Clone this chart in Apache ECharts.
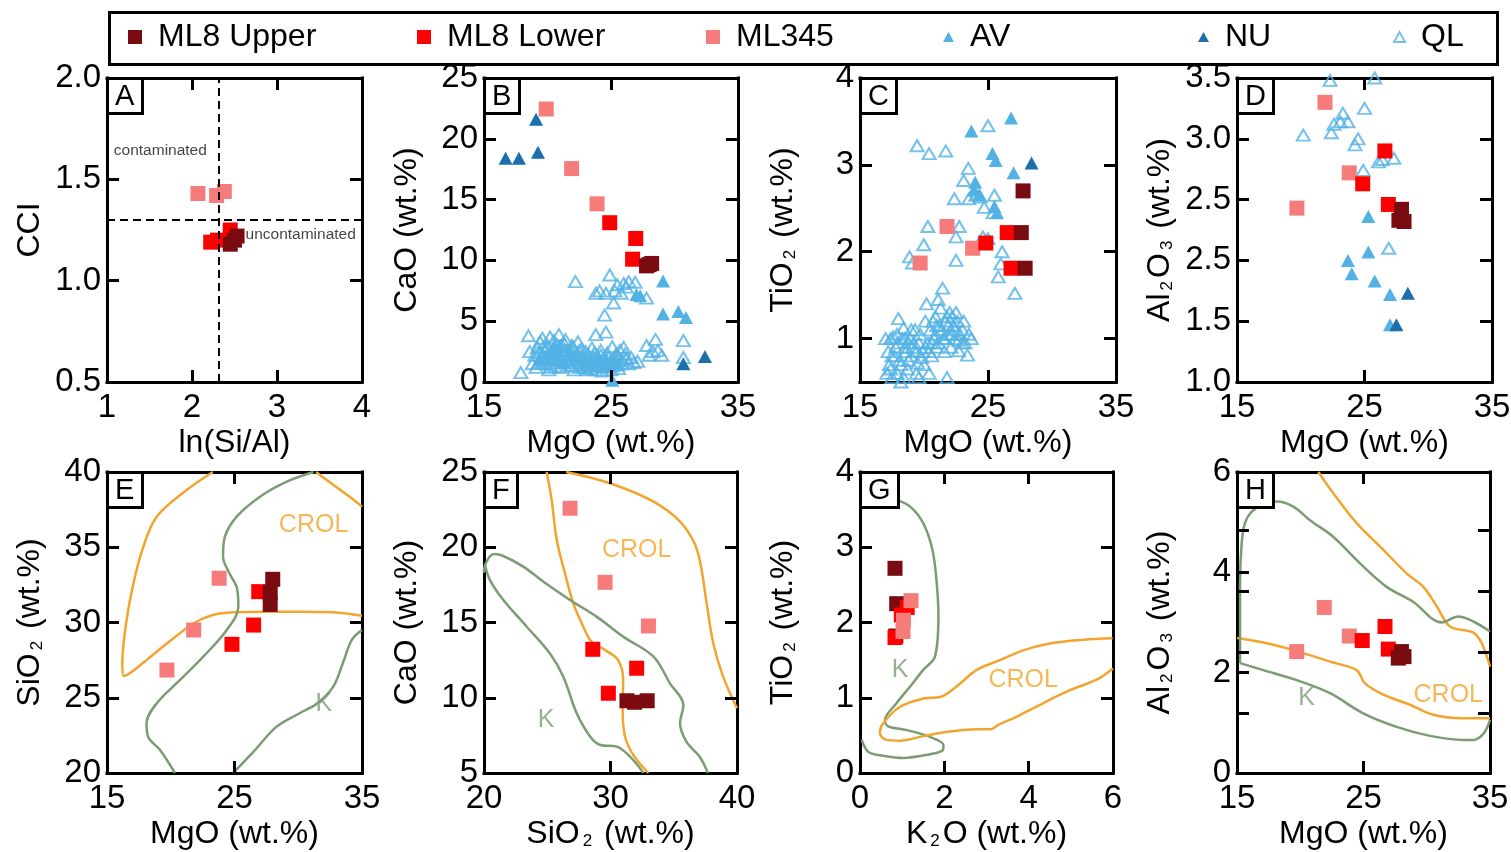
<!DOCTYPE html>
<html>
<head>
<meta charset="utf-8">
<script src="https://cdn.jsdelivr.net/npm/echarts@6/dist/echarts.min.js"></script>
<style>
  html, body { margin: 0; padding: 0; background: #fff; }
  #chart { width: 1511px; height: 852px; }
</style>
</head>
<body>
<div id="chart"></div>
<script>
// ---------- sample groups ----------
const GROUPS = ['ML8 Upper', 'ML8 Lower', 'ML345', 'AV', 'NU', 'QL'];

// ---------- tick values ----------
const TICKS_A_X = [1, 2, 3, 4];
const TICKS_A_Y = [0.5, 1.0, 1.5, 2.0];
const TICKS_MGO = [15, 25, 35];
const TICKS_CAO_B = [0, 5, 10, 15, 20, 25];
const TICKS_TIO2_C = [1, 2, 3, 4];
const TICKS_AL2O3_D = [1.0, 1.5, 2.0, 2.5, 3.0, 3.5];
const LABELS_AL2O3_D = ['1.0', '1.5', '2.5', '2.5', '3.0', '3.5'];
const TICKS_SIO2_E = [20, 25, 30, 35, 40];
const TICKS_SIO2_F = [20, 30, 40];
const TICKS_CAO_F = [5, 10, 15, 20, 25];
const TICKS_K2O_G = [0, 2, 4, 6];
const TICKS_TIO2_G = [0, 1, 2, 3, 4];
const TICKS_AL2O3_H = [0, 2, 4, 6];
const TICKS_AL2O3_H_MINOR = [1.2, 2.41, 3.62, 4.83];

// ---------- A: CCI vs ln(Si/Al) ----------
const A_ML345 = [[2.07, 1.43], [2.29, 1.42], [2.38, 1.44]];
const A_LOWER = [[2.22, 1.19], [2.30, 1.20], [2.45, 1.25]];
const A_UPPER = [[2.45, 1.18], [2.50, 1.20], [2.53, 1.22]];
const A_SPLIT_X = 2.31;
const A_SPLIT_Y = 1.30;
const A_NOTES = [[1.08, 1.64, 'contaminated'], [2.63, 1.225, 'uncontaminated']];

// ---------- B: CaO vs MgO ----------
const B_ML345 = [[19.9, 22.45], [21.9, 17.55], [23.9, 14.65]];
const B_LOWER = [[24.9, 13.1], [26.95, 11.8], [26.7, 10.1]];
const B_UPPER = [[27.8, 9.55], [28.0, 9.65], [28.2, 9.75]];
const B_NU = [[16.7, 18.4], [17.75, 18.4], [19.1, 21.6], [19.25, 18.9], [30.7, 1.5], [32.4, 2.1]];
const B_AV = [[29.1, 8.3], [29.1, 5.6], [30.3, 5.8], [30.9, 5.3], [27.0, 7.2], [27.3, 7.1],
  [25.1, 0.15], [19.8, 2.0], [20.6, 2.8], [21.3, 1.6], [22.8, 1.4], [24.1, 1.8], [25.4, 1.6],
  [20.2, 2.4], [21.6, 2.2], [22.3, 1.9], [23.4, 1.7], [24.7, 1.3], [19.4, 1.8], [21.0, 3.0]];
const B_QL = [[22.2, 8.25], [24.9, 8.8], [23.8, 7.3], [24.6, 7.3], [25.5, 8.0], [26.0, 8.1],
  [26.4, 8.25], [26.9, 8.2], [25.2, 6.5], [24.5, 5.5], [25.8, 7.3], [27.8, 6.9], [25.3, 7.5],
  [26.2, 7.8], [24.1, 7.5], [18.5, 3.8], [23.8, 3.9], [24.6, 4.1], [17.9, 0.77], [27.8, 3.0],
  [28.5, 3.5], [30.7, 3.4], [30.7, 2.0], [27.1, 1.7], [26.0, 2.85], [29.0, 2.2], [28.3, 2.5],
  [28.7, 2.6], [28.0, 2.2], [18.8, 1.5], [19.0, 2.2], [19.2, 2.8], [19.4, 3.3], [19.6, 3.6],
  [19.8, 2.5], [20.0, 3.0], [20.2, 3.7], [20.4, 1.8], [20.5, 3.4], [20.7, 2.6], [20.9, 3.9],
  [21.0, 1.2], [21.2, 2.9], [21.4, 3.5], [21.5, 2.0], [21.7, 1.4], [21.9, 3.0], [22.0, 2.4],
  [22.2, 1.8], [22.4, 3.3], [22.5, 1.2], [22.7, 2.7], [22.9, 2.0], [23.0, 1.5], [23.2, 2.3],
  [23.4, 1.1], [23.5, 2.8], [23.7, 1.7], [23.9, 2.2], [24.0, 1.3], [24.2, 2.6], [24.4, 1.9],
  [24.6, 1.2], [24.7, 2.4], [24.9, 1.6], [25.1, 2.9], [25.3, 2.0], [25.5, 1.4], [25.7, 2.6],
  [25.9, 1.8], [26.1, 2.3], [26.4, 1.5], [19.1, 1.2], [19.5, 1.9], [20.1, 1.0], [20.6, 1.3],
  [18.6, 2.5], [19.3, 1.6], [20.3, 2.3], [21.1, 2.5], [21.6, 1.7], [22.1, 1.0], [23.1, 1.0],
  [23.8, 1.0], [24.3, 0.9], [25.0, 1.0], [25.6, 1.1], [26.6, 2.0], [26.8, 1.6], [22.6, 1.6],
  [23.3, 1.9], [19.9, 1.5], [20.8, 1.9], [21.8, 2.2],
  [19.3, 2.4], [19.7, 2.9], [20.0, 2.1], [20.2, 1.5], [20.4, 2.7], [20.7, 3.1], [20.9, 2.2],
  [21.1, 1.8], [21.3, 3.2], [21.5, 2.6], [21.8, 1.9], [22.0, 2.9], [22.3, 2.2], [22.5, 2.6],
  [22.8, 1.8], [23.0, 2.5], [23.3, 1.4], [23.6, 2.1], [23.9, 1.6], [24.2, 2.2], [24.5, 1.6],
  [24.8, 2.0], [25.1, 1.3], [25.4, 2.3], [25.8, 1.5], [26.2, 1.9], [21.0, 2.7], [20.5, 2.0],
  [22.6, 2.1], [23.7, 2.4], [24.6, 1.7], [19.6, 2.2], [21.4, 2.3], [22.9, 1.2], [24.1, 1.4],
  [25.2, 1.8], [20.3, 1.2], [21.9, 1.3], [23.5, 1.3], [25.6, 2.0]];

// ---------- C: TiO2 vs MgO ----------
const C_ML345 = [[21.8, 2.29], [23.8, 2.04], [19.7, 1.87]];
const C_LOWER = [[24.83, 2.10], [26.5, 2.22], [26.8, 1.81]];
const C_UPPER = [[27.74, 2.70], [27.6, 2.22], [27.9, 1.81]];
const C_NU = [[28.4, 3.02]];
const C_AV = [[23.7, 3.39], [26.8, 3.54], [25.35, 3.13], [25.6, 3.05], [27.0, 2.91], [24.0, 2.8],
  [23.9, 2.71], [24.3, 2.66], [25.5, 2.52], [25.7, 2.45]];
const C_QL = [[19.46, 3.22], [20.4, 3.13], [21.7, 3.16], [25.0, 3.45], [23.46, 2.96], [23.1, 2.82],
  [22.37, 2.61], [23.5, 2.61], [24.05, 2.65], [24.4, 2.63], [25.5, 2.65], [24.7, 2.51],
  [20.3, 2.29], [22.75, 2.29], [22.5, 2.17], [19.98, 2.08], [18.87, 1.94], [19.1, 1.87],
  [22.5, 1.9], [26.1, 2.0], [26.0, 1.86], [25.8, 1.71], [27.1, 1.52], [24.6, 2.17], [25.0, 2.15],
  [25.4, 2.45],
  [17.0, 1.0], [17.2, 0.85], [17.3, 0.7], [17.5, 0.55], [17.6, 1.02], [17.8, 0.9], [17.9, 0.6],
  [18.0, 1.23], [18.1, 0.75], [18.3, 1.0], [18.4, 0.55], [18.6, 0.85], [18.7, 0.65], [18.9, 1.0],
  [19.0, 0.8], [19.2, 0.95], [19.4, 0.6], [19.5, 0.72], [19.7, 1.05], [19.9, 0.85], [20.0, 0.7],
  [20.2, 1.4], [20.3, 0.95], [20.5, 1.1], [20.6, 0.8], [20.8, 1.0], [20.9, 1.25], [21.0, 0.9],
  [21.2, 1.15], [21.3, 1.35], [21.45, 1.58], [21.5, 1.0], [21.6, 0.85], [21.7, 1.2], [21.9, 1.05],
  [22.0, 1.3], [22.1, 0.9], [22.3, 1.15], [22.4, 1.0], [22.6, 1.2], [22.7, 0.86], [22.8, 1.05],
  [23.0, 1.1], [23.2, 0.95], [23.4, 0.81], [23.5, 1.05], [23.7, 1.0], [20.4, 0.6], [19.6, 0.55],
  [18.2, 0.5], [21.8, 0.55], [20.1, 1.2], [19.3, 1.1], [17.4, 1.0], [18.8, 0.95], [22.2, 1.25],
  [21.1, 1.45], [23.1, 1.2], [17.1, 0.6], [18.5, 1.0],
  [17.7, 0.8], [18.0, 0.95], [18.2, 0.7], [18.5, 0.9], [18.8, 0.75], [19.1, 0.9], [19.4, 0.85],
  [19.6, 0.95], [19.8, 0.78], [20.1, 0.9], [20.4, 0.85], [20.6, 0.95], [20.9, 1.05], [21.1, 0.95],
  [21.4, 1.1], [21.6, 1.0], [21.9, 1.15], [22.1, 1.05], [22.4, 1.1], [22.7, 0.98], [23.0, 0.95],
  [21.0, 1.15], [20.7, 1.2], [21.8, 1.25], [22.5, 1.3], [17.9, 1.05], [18.4, 1.12], [19.0, 1.1],
  [17.5, 0.8], [17.4, 0.65]];

// ---------- D: Al2O3 vs MgO ----------
const D_ML345 = [[21.9, 3.30], [23.8, 2.72], [19.7, 2.43]];
const D_LOWER = [[26.6, 2.90], [24.86, 2.63], [26.87, 2.46]];
const D_UPPER = [[27.9, 2.42], [27.7, 2.33], [28.1, 2.32]];
const D_NU = [[27.5, 1.47], [28.4, 1.73]];
const D_AV = [[25.3, 2.36], [25.3, 2.07], [23.7, 2.0], [24.0, 1.89], [25.8, 1.83], [27.0, 1.72], [27.0, 1.47]];
const D_QL = [[22.3, 3.48], [25.8, 3.50], [20.2, 3.03], [22.4, 3.05], [22.6, 3.12], [23.3, 3.21],
  [23.1, 3.14], [23.7, 3.14], [24.25, 2.95], [24.5, 3.0], [25.0, 3.25], [24.9, 2.74],
  [26.1, 2.81], [26.4, 2.83], [27.3, 2.84], [26.9, 2.10]];

// ---------- E: SiO2 vs MgO ----------
const E_ML345 = [[23.8, 32.94], [21.8, 29.5], [19.7, 26.84]];
const E_LOWER = [[26.9, 32.05], [26.5, 29.83], [24.8, 28.55]];
const E_UPPER = [[28.0, 32.87], [27.8, 32.0], [27.8, 31.2]];
const E_CROL = [[23.3, 40], [21.25, 38.8], [18.9, 37.03], [17.85, 35.04], [17.07, 32.6], [16.5, 29.95],
  [16.2, 27.3], [16.3, 26.45], [16.9, 26.7], [18.1, 27.5], [19.7, 28.6], [21.8, 29.95], [23.3, 30.5],
  [24.9, 30.68], [27.5, 30.72], [30.1, 30.72], [32.75, 30.68], [35.0, 30.45]];
const E_CROL_2 = [[31.4, 40], [32.5, 39.3], [33.8, 38.5], [35.0, 37.7]];
const E_K = [[20.33, 20.0], [19.16, 21.53], [18.24, 22.37], [18.1, 23.3], [18.9, 24.63], [20.73, 26.18],
  [22.55, 27.73], [24.39, 29.5], [25.3, 31.05], [25.2, 32.27], [24.6, 33.27], [24.1, 34.37],
  [24.25, 35.7], [25.17, 37.03], [27.0, 38.36], [29.1, 39.36], [31.2, 40]];
const E_K_2 = [[24.9, 20.0], [26.5, 21.42], [28.3, 23.08], [30.1, 23.97], [31.45, 24.6], [32.75, 25.74],
  [33.5, 27.3], [34.2, 28.84], [35.0, 29.5]];
const E_TAGS = [[31.2, 36.5, 'CROL'], [32.0, 24.6, 'K']];

// ---------- F: CaO vs SiO2 ----------
const F_ML345 = [[26.8, 22.59], [29.57, 17.67], [33.0, 14.77]];
const F_LOWER = [[28.6, 13.22], [32.07, 11.96], [29.83, 10.3]];
const F_UPPER = [[31.3, 9.8], [31.9, 9.7], [32.9, 9.8]];
const F_CROL = [[24.95, 25], [25.35, 23.14], [25.75, 20.48], [26.4, 18.27], [27.06, 16.27], [27.85, 14.72],
  [28.5, 13.73], [29.57, 13.17], [30.6, 12.5], [31.0, 11.18], [30.96, 9.19], [31.15, 7.41],
  [31.8, 6.2], [32.99, 5.0]];
const F_CROL_2 = [[26.5, 25], [29.96, 24.25], [33.4, 23.03], [35.5, 21.7], [36.7, 20.15], [37.2, 18.49],
  [37.6, 16.27], [38.13, 13.6], [38.9, 11.4], [40.0, 9.3]];
const F_K = [[20.0, 18.3], [20.08, 18.82], [20.79, 19.55], [21.53, 19.42], [23.1, 18.71], [24.7, 17.71],
  [26.8, 16.5], [28.9, 15.39], [31.0, 14.06], [33.4, 12.73], [34.7, 10.96], [35.76, 9.52],
  [35.5, 8.3], [36.0, 7.08], [37.05, 6.08], [37.7, 5.0]];
const F_K_2 = [[20.08, 18.82], [20.47, 17.82], [21.53, 16.5], [23.38, 14.72], [25.2, 12.95], [26.27, 11.4],
  [27.33, 8.97], [28.4, 7.41], [29.2, 6.86], [30.5, 6.75], [31.8, 5.86], [32.6, 5.0]];
const F_TAGS = [[32.07, 19.8, 'CROL'], [24.9, 8.5, 'K']];

// ---------- G: TiO2 vs K2O ----------
const G_ML345 = [[1.21, 2.29], [1.03, 2.03], [1.02, 1.88]];
const G_LOWER = [[0.83, 1.80], [1.12, 2.20], [0.98, 2.10]];
const G_UPPER = [[0.83, 2.72], [0.87, 2.25], [0.85, 1.82]];
const G_K = [[0.87, 3.63], [1.19, 3.54], [1.5, 3.32], [1.72, 2.96], [1.82, 2.52], [1.86, 2.08],
  [1.78, 1.55], [1.5, 1.37], [1.19, 1.15], [0.87, 0.93], [0.59, 0.70], [0.67, 0.62], [1.11, 0.57],
  [1.66, 0.48], [1.98, 0.37], [1.96, 0.30], [1.66, 0.25], [1.03, 0.20], [0.55, 0.23], [0.2, 0.28],
  [0.04, 0.44]];
const G_CROL = [[5.99, 1.79], [5.3, 1.77], [4.5, 1.72], [3.87, 1.63], [3.32, 1.5], [2.77, 1.37],
  [2.29, 1.15], [1.9, 1.01], [1.5, 0.99], [0.95, 0.88], [0.55, 0.66], [0.47, 0.53], [0.63, 0.44],
  [0.95, 0.43], [1.5, 0.49], [2.13, 0.55], [2.77, 0.58], [3.08, 0.58], [3.28, 0.64], [3.72, 0.75],
  [4.35, 0.93], [4.98, 1.1], [5.61, 1.24], [6.0, 1.39]];
const G_TAGS = [[3.87, 1.24, 'CROL'], [0.95, 1.37, 'K']];

// ---------- H: Al2O3 vs MgO ----------
const H_ML345 = [[21.9, 3.30], [23.88, 2.73], [19.72, 2.42]];
const H_LOWER = [[26.7, 2.92], [24.9, 2.64], [26.96, 2.47]];
const H_UPPER = [[28.0, 2.42], [27.75, 2.29], [28.2, 2.32]];
const H_CROL = [[21.43, 6.0], [22.6, 5.58], [24.46, 4.98], [26.57, 4.45], [28.4, 3.98], [29.73, 3.71],
  [30.8, 3.32], [31.84, 2.92], [33.68, 2.8], [34.34, 2.59], [35.0, 2.12]];
const H_CROL_2 = [[15.0, 2.69], [17.08, 2.6], [19.72, 2.43], [22.35, 2.22], [24.46, 2.05], [25.1, 1.79],
  [26.57, 1.56], [28.68, 1.36], [30.5, 1.16], [32.9, 1.09], [35.0, 1.09]];
const H_K = [[15.24, 2.19], [15.24, 3.78], [15.37, 4.58], [15.63, 4.98], [16.16, 5.21], [17.08, 5.36],
  [18.14, 5.41], [19.45, 5.31], [20.77, 5.04], [22.6, 4.71], [24.72, 4.18], [26.83, 3.71],
  [28.94, 3.41], [31.18, 3.0], [32.49, 3.12], [33.68, 3.02], [35.0, 2.82]];
const H_K_2 = [[15.24, 2.19], [17.08, 2.05], [19.72, 1.85], [22.35, 1.59], [24.98, 1.19], [27.62, 0.92],
  [30.26, 0.74], [32.9, 0.66], [33.7, 0.66], [34.5, 0.79], [35.0, 1.06]];
const H_TAGS = [[31.7, 1.56, 'CROL'], [20.5, 1.49, 'K']];

// ---------- look ----------
const FONT = '"Liberation Sans", Arial, Helvetica, sans-serif';
const COLORS = {
  'ML8 Upper': '#7a0b10', 'ML8 Lower': '#fe0000', 'ML345': '#f67c7c',
  'AV': '#52b1e5', 'NU': '#1b6fab', 'QL': '#52b1e5',
  CROL: '#f2a52e', K: '#7c9c74'
};
const SUB = { s: { fontSize: 17, fontFamily: FONT, verticalAlign: 'bottom', lineHeight: 22, padding: [0, 3, 0, 3] } };
const TICK_PX = 12;          // inward tick length in pixels
const LABEL_FONT = 33;
const NAME_FONT = 32;

// ---------- panel frames ----------
const PANELS = [
  { tag: 'A', rect: [107, 78, 255, 304], x: [1, 4, TICKS_A_X], y: [0.5, 2, TICKS_A_Y], xName: 'ln(Si/Al)', yName: 'CCI', yFmt: v => v.toFixed(1) },
  { tag: 'B', rect: [484, 78, 254, 304], x: [15, 35, TICKS_MGO], y: [0, 25, TICKS_CAO_B], xName: 'MgO (wt.%)', yName: 'CaO (wt.%)' },
  { tag: 'C', rect: [860, 78, 256, 304], x: [15, 35, TICKS_MGO], y: [0.5, 4, TICKS_TIO2_C], xName: 'MgO (wt.%)', yName: 'TiO{s|2} (wt.%)' },
  { tag: 'D', rect: [1237, 78, 255, 304], x: [15, 35, TICKS_MGO], y: [1, 3.5, TICKS_AL2O3_D], xName: 'MgO (wt.%)', yName: 'Al{s|2}O{s|3} (wt.%)',
    yFmt: v => LABELS_AL2O3_D[TICKS_AL2O3_D.findIndex(t => Math.abs(t - v) < 1e-6)] },
  { tag: 'E', rect: [107, 472, 255, 301], x: [15, 35, TICKS_MGO], y: [20, 40, TICKS_SIO2_E], xName: 'MgO (wt.%)', yName: 'SiO{s|2} (wt.%)' },
  { tag: 'F', rect: [484, 472, 253, 301], x: [20, 40, TICKS_SIO2_F], y: [5, 25, TICKS_CAO_F], xName: 'SiO{s|2} (wt.%)', yName: 'CaO (wt.%)' },
  { tag: 'G', rect: [860, 472, 253, 301], x: [0, 6, TICKS_K2O_G], y: [0, 4, TICKS_TIO2_G], xName: 'K{s|2}O (wt.%)', yName: 'TiO{s|2} (wt.%)' },
  { tag: 'H', rect: [1237, 472, 253, 301], x: [15, 35, TICKS_MGO], y: [0, 6, TICKS_AL2O3_H], xName: 'MgO (wt.%)', yName: 'Al{s|2}O{s|3} (wt.%)',
    yTicks: TICKS_AL2O3_H.concat(TICKS_AL2O3_H_MINOR), yTicksRight: TICKS_AL2O3_H_MINOR }
];

const frameLine = { show: true, onZero: false, lineStyle: { color: '#000', width: 3, cap: 'square' } };

const grids = [], xAxes = [], yAxes = [], titles = [];
PANELS.forEach((p, g) => {
  const [l, t, w, h] = p.rect;
  grids.push({ left: l, top: t, width: w, height: h, show: false, containLabel: false, outerBoundsMode: 'none' });
  const xt = p.x[2], yt = p.y[2];
  xAxes.push({
    type: 'value', gridIndex: g, position: 'bottom', min: p.x[0], max: p.x[1],
    axisLine: frameLine, splitLine: { show: false }, axisTick: { show: false },
    axisLabel: { customValues: xt, fontSize: LABEL_FONT, fontFamily: FONT, color: '#000', margin: 9 },
    name: p.xName, nameLocation: 'middle', nameGap: 45,
    nameTextStyle: { fontSize: NAME_FONT, fontFamily: FONT, color: '#000', rich: SUB }
  });
  xAxes.push({
    type: 'value', gridIndex: g, position: 'top', min: p.x[0], max: p.x[1],
    axisLine: frameLine, splitLine: { show: false }, axisTick: { show: false }, axisLabel: { show: false }
  });
  yAxes.push({
    type: 'value', gridIndex: g, position: 'left', min: p.y[0], max: p.y[1],
    axisLine: frameLine, splitLine: { show: false }, axisTick: { show: false },
    axisLabel: { customValues: yt, fontSize: LABEL_FONT, fontFamily: FONT, color: '#000', margin: 6,
      formatter: p.yFmt || (v => String(v)) },
    name: p.yName, nameLocation: 'middle', nameGap: 61,
    nameTextStyle: { fontSize: NAME_FONT, fontFamily: FONT, color: '#000', rich: SUB }
  });
  yAxes.push({
    type: 'value', gridIndex: g, position: 'right', min: p.y[0], max: p.y[1],
    axisLine: frameLine, splitLine: { show: false }, axisTick: { show: false }, axisLabel: { show: false }
  });
  titles.push({
    text: p.tag, left: l, top: t, padding: [4, 8, 3, 8],
    borderColor: '#000', borderWidth: 3, backgroundColor: '#fff',
    textStyle: { fontSize: 29, fontWeight: 'normal', fontFamily: FONT, color: '#000', lineHeight: 29 }
  });
});

// ---------- series builders ----------
const series = [];
const ax = (g) => ({ xAxisIndex: g * 2, yAxisIndex: g * 2 });

// inward ticks on all four sides, laid out in each panel's data space
function frameTicks(g) {
  const p = PANELS[g];
  const [x0, x1, xt] = p.x, [y0, y1, yt] = p.y;
  const w = p.rect[2], h = p.rect[3];
  const dx = TICK_PX * (x1 - x0) / w, dy = TICK_PX * (y1 - y0) / h;
  const inner = (vals, lo, hi) => vals.filter(v => v > lo + 1e-9 && v < hi - 1e-9);
  const segs = [];
  inner(xt, x0, x1).forEach(v => {
    segs.push([{ coord: [v, y0] }, { coord: [v, y0 + dy] }]);
    segs.push([{ coord: [v, y1] }, { coord: [v, y1 - dy] }]);
  });
  inner(p.yTicks || yt, y0, y1).forEach(v => segs.push([{ coord: [x0, v] }, { coord: [x0 + dx, v] }]));
  inner(p.yTicksRight || yt, y0, y1).forEach(v => segs.push([{ coord: [x1, v] }, { coord: [x1 - dx, v] }]));
  series.push({ type: 'scatter', name: 'ticks', ...ax(g), data: [], silent: true, z: 6,
    markLine: { silent: true, symbol: 'none', label: { show: false }, animation: false,
      lineStyle: { color: '#000', width: 3, type: 'solid' }, emphasis: { disabled: true }, data: segs } });
}
function squares(g, name, data) {
  series.push({ type: 'scatter', name, data, ...ax(g), symbol: 'rect', symbolSize: 15,
    itemStyle: { color: COLORS[name], opacity: 1 }, z: 4, emphasis: { disabled: true } });
}
function triangles(g, name, data) {
  const hollow = name === 'QL';
  series.push({ type: 'scatter', name, data, ...ax(g), symbol: 'triangle', symbolSize: hollow ? [13, 11] : [14, 13],
    itemStyle: hollow ? { color: 'rgba(255,255,255,0)', borderColor: COLORS.QL, borderWidth: 2 }
                      : { color: COLORS[name], opacity: 1 },
    z: 3, emphasis: { disabled: true } });
}
function outline(g, kind, data) {
  series.push({ type: 'line', name: kind + ' field', data, ...ax(g), showSymbol: false, smooth: 0.35,
    lineStyle: { color: COLORS[kind], width: 2.5 }, z: 2, silent: true, clip: true });
}
function tags(g, data) {
  series.push({ type: 'scatter', name: 'field names', ...ax(g), symbolSize: 0, silent: true, z: 2,
    data: data.map(d => ({ value: [d[0], d[1]], name: d[2],
      label: { color: COLORS[d[2] === 'K' ? 'K' : 'CROL'] } })),
    label: { show: true, position: 'inside', formatter: q => q.name, fontSize: 25, fontFamily: FONT } });
}

PANELS.forEach((p, g) => frameTicks(g));

// A
series.push({ type: 'scatter', name: 'split', ...ax(0), data: [], silent: true, z: 5,
  markLine: { silent: true, symbol: 'none', label: { show: false },
    lineStyle: { color: '#000', width: 2, type: [8, 5] },
    data: [{ xAxis: A_SPLIT_X }, { yAxis: A_SPLIT_Y }] } });
series.push({ type: 'scatter', name: 'notes', ...ax(0), symbolSize: 0, silent: true, z: 5,
  data: A_NOTES.map(d => ({ value: [d[0], d[1]], name: d[2] })),
  label: { show: true, position: 'right', distance: 0, formatter: q => q.name, fontSize: 15.5, fontFamily: FONT, color: '#111' } });
squares(0, 'ML345', A_ML345); squares(0, 'ML8 Lower', A_LOWER); squares(0, 'ML8 Upper', A_UPPER);

// B
triangles(1, 'QL', B_QL); triangles(1, 'AV', B_AV); triangles(1, 'NU', B_NU);
squares(1, 'ML345', B_ML345); squares(1, 'ML8 Lower', B_LOWER); squares(1, 'ML8 Upper', B_UPPER);

// C
triangles(2, 'QL', C_QL); triangles(2, 'AV', C_AV); triangles(2, 'NU', C_NU);
squares(2, 'ML345', C_ML345); squares(2, 'ML8 Lower', C_LOWER); squares(2, 'ML8 Upper', C_UPPER);

// D
triangles(3, 'QL', D_QL); triangles(3, 'AV', D_AV); triangles(3, 'NU', D_NU);
squares(3, 'ML345', D_ML345); squares(3, 'ML8 Lower', D_LOWER); squares(3, 'ML8 Upper', D_UPPER);

// E
outline(4, 'CROL', E_CROL); outline(4, 'CROL', E_CROL_2); outline(4, 'K', E_K); outline(4, 'K', E_K_2);
tags(4, E_TAGS);
squares(4, 'ML345', E_ML345); squares(4, 'ML8 Lower', E_LOWER); squares(4, 'ML8 Upper', E_UPPER);

// F
outline(5, 'CROL', F_CROL); outline(5, 'CROL', F_CROL_2); outline(5, 'K', F_K); outline(5, 'K', F_K_2);
tags(5, F_TAGS);
squares(5, 'ML345', F_ML345); squares(5, 'ML8 Lower', F_LOWER); squares(5, 'ML8 Upper', F_UPPER);

// G
outline(6, 'K', G_K); outline(6, 'CROL', G_CROL);
tags(6, G_TAGS);
squares(6, 'ML8 Upper', G_UPPER); squares(6, 'ML8 Lower', G_LOWER); squares(6, 'ML345', G_ML345);

// H
outline(7, 'CROL', H_CROL); outline(7, 'CROL', H_CROL_2); outline(7, 'K', H_K); outline(7, 'K', H_K_2);
tags(7, H_TAGS);
squares(7, 'ML345', H_ML345); squares(7, 'ML8 Lower', H_LOWER); squares(7, 'ML8 Upper', H_UPPER);

// ---------- legend: one entry per group, spread across the framed strip ----------
const LEGEND_SPOTS = [
  { name: 'ML8 Upper', left: 128, icon: 'rect', w: 14, h: 14 },
  { name: 'ML8 Lower', left: 417, icon: 'rect', w: 14, h: 14 },
  { name: 'ML345', left: 706, icon: 'rect', w: 14, h: 14 },
  { name: 'AV', left: 943, icon: 'triangle', w: 11, h: 10 },
  { name: 'NU', left: 1198, icon: 'triangle', w: 11, h: 10 },
  { name: 'QL', left: 1393, icon: 'triangle', w: 11, h: 10 }
];
const legends = LEGEND_SPOTS.map(s => ({
  data: [{ name: s.name, icon: s.icon,
    itemStyle: s.name === 'QL' ? { color: '#fff', borderColor: COLORS.QL, borderWidth: 2 } : { color: COLORS[s.name] } }],
  left: s.left, top: 21, itemWidth: s.w, itemHeight: s.h, itemGap: 0, selectedMode: false,
  padding: 0, textStyle: { fontSize: 32, fontFamily: FONT, color: '#000', padding: [0, 0, 0, 11] }
}));

const chart = echarts.init(document.getElementById('chart'), null, { renderer: 'canvas' });
chart.setOption({
  backgroundColor: '#fff',
  animation: false,
  title: titles,
  legend: legends,
  grid: grids,
  xAxis: xAxes,
  yAxis: yAxes,
  graphic: [{
    type: 'rect', left: 107, top: 10, z: 0, silent: true,
    shape: { width: 1388, height: 52 },
    style: { fill: 'none', stroke: '#000', lineWidth: 3 }
  }],
  series
});
</script>
</body>
</html>
